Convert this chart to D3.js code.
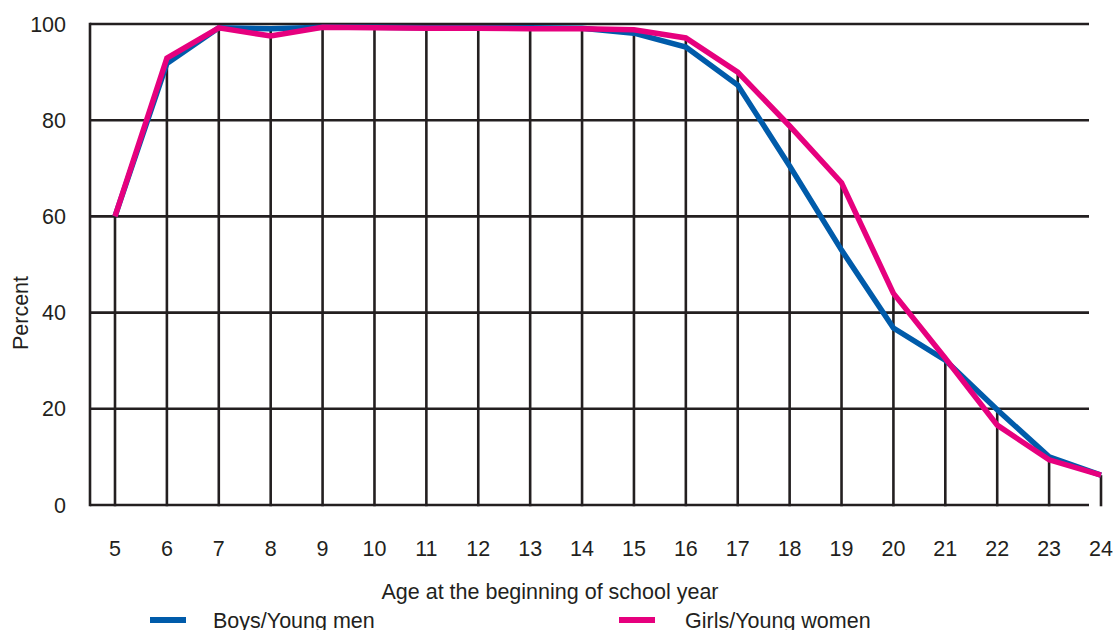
<!DOCTYPE html>
<html><head><meta charset="utf-8">
<script src="https://cdn.jsdelivr.net/npm/d3@7"></script>
<style>
html,body{margin:0;padding:0;background:#fff;overflow:hidden}
text{font-family:"Liberation Sans",Arial,Helvetica,sans-serif;fill:#231f20}
</style></head>
<body>
<svg id="chart" width="1116" height="630"></svg>
<script>
const ages = [5,6,7,8,9,10,11,12,13,14,15,16,17,18,19,20,21,22,23,24];
const boys = [60,91.8,99.2,99,99.3,99.3,99.2,99.2,99.2,99.1,98.1,95.2,87.3,70.5,53,36.8,30.1,19.8,10,6.2];
const girls = [60,92.9,99.2,97.5,99.3,99.2,99.1,99.1,99,99,98.8,97.1,90,78.8,67,44,30.5,16.6,9.4,6.2];
const yTicks = [0,20,40,60,80,100];
const seriesNames = ["Boys/Young men","Girls/Young women"];
const colors = ["#005baa","#e6007e"];
const xTitle = "Age at the beginning of school year";
const yTitle = "Percent";

(function(){
const svg = d3.select("#chart");
const plotLeft = 90, gridRight = 1089, plotTop = 24, plotBottom = 505;
const x = d3.scaleLinear().domain([5,24]).range([115,1101]);
const y = d3.scaleLinear().domain([0,100]).range([plotBottom,plotTop]);
const ink = "#231f20";
const fs = 21.5;

// horizontal gridlines
svg.append("g").selectAll("line").data(yTicks).join("line")
  .attr("x1", plotLeft).attr("x2", gridRight)
  .attr("y1", d=>y(d)).attr("y2", d=>y(d))
  .attr("stroke", ink).attr("stroke-width", 2.6);
// left border
svg.append("line").attr("x1",plotLeft).attr("x2",plotLeft).attr("y1",y(100)-1.3).attr("y2",y(0)+1.3)
  .attr("stroke", ink).attr("stroke-width", 2.6);
// drop lines
svg.append("g").selectAll("line").data(ages).join("line")
  .attr("x1", d=>x(d)).attr("x2", d=>x(d))
  .attr("y1", y(0)+1.3).attr("y2", (d,i)=>y(Math.max(boys[i],girls[i])))
  .attr("stroke", ink).attr("stroke-width", 2.6);

// y tick labels
svg.append("g").selectAll("text").data(yTicks).join("text")
  .attr("x", 66).attr("y", d=>y(d)).attr("dy","0.35em")
  .attr("text-anchor","end").attr("font-size", fs).text(d=>d);
// x tick labels
svg.append("g").selectAll("text").data(ages).join("text")
  .attr("x", d=>x(d)).attr("y", 548).attr("dy","0.35em")
  .attr("text-anchor","middle").attr("font-size", fs).text(d=>d);

// axis titles
svg.append("text").attr("x", 550).attr("y", 591).attr("dy","0.35em")
  .attr("text-anchor","middle").attr("font-size", fs).text(xTitle);
svg.append("text").attr("transform","translate(20,313) rotate(-90)").attr("dy","0.35em")
  .attr("text-anchor","middle").attr("font-size", fs).text(yTitle);

// lines
const line = d3.line().x((d,i)=>x(ages[i])).y(d=>y(d));
[boys, girls].forEach((s,k)=>{
  svg.append("path").attr("d", line(s)).attr("fill","none")
    .attr("stroke", colors[k]).attr("stroke-width", 5.5)
    .attr("stroke-linejoin","miter");
});

// legend
const legX = [150, 619], legTextX = [213, 685];
seriesNames.forEach((n,k)=>{
  svg.append("rect").attr("x", legX[k]).attr("y", 617).attr("width", 36).attr("height", 6)
    .attr("fill", colors[k]);
  svg.append("text").attr("x", legTextX[k]).attr("y", 620).attr("dy","0.35em")
    .attr("font-size", fs).text(n);
});
})();
</script>
</body></html>
